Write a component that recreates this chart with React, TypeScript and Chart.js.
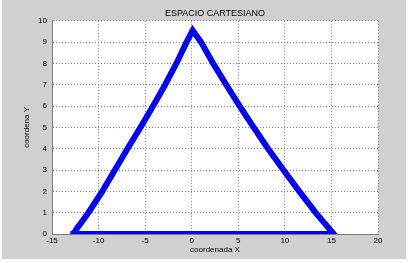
import React, { useEffect, useRef } from 'react';
import { Chart, registerables } from 'chart.js';

Chart.register(...registerables);

const titleText = 'ESPACIO CARTESIANO';
const xAxisLabel = 'coordenada X';
const yAxisLabel = 'coordena Y';

// Left branch (going up to the apex)
const leftX = [-12.7, -12.35, -12.0, -11.1, -9.6, -8.25, -6.9, -5.5, -4.15, -2.85, -1.65, -0.55, 0.1];
const leftY = [0, 0.25, 0.45, 1, 2, 3, 4, 5, 6, 7, 8, 9, 9.55];
// Right branch (apex down to the x axis)
const rightX = [1.0, 2.3, 3.7, 5.15, 6.65, 8.2, 9.85, 11.55, 13.3, 15.25];
const rightY = [9, 8, 7, 6, 5, 4, 3, 2, 1, 0];
// Base along y = 0, back to the start
const baseX = [-12.7];
const baseY = [0];

const xTickValues = [-15, -10, -5, 0, 5, 10, 15, 20];
const yTickValues = [0, 1, 2, 3, 4, 5, 6, 7, 8, 9, 10];

const FONT = "'Liberation Sans', Arial, sans-serif";
const NARROW = "'Liberation Sans Narrow', 'Liberation Sans', Arial, sans-serif";
const BLUE = '#0000ff';

const backgroundPlugin = {
  id: 'matlabBg',
  beforeDraw(chart: any) {
    const { ctx, chartArea } = chart;
    ctx.save();
    ctx.fillStyle = '#ffffff';
    ctx.fillRect(0, 0, chart.width, chart.height);
    ctx.fillStyle = '#d0d0d0';
    ctx.fillRect(2, 0, 404, 259);
    ctx.fillStyle = '#ffffff';
    ctx.fillRect(chartArea.left, chartArea.top, chartArea.right - chartArea.left, chartArea.bottom - chartArea.top);
    ctx.restore();
  },
};

const toPoints = (xs: number[], ys: number[]) => xs.map((x, i) => ({ x, y: ys[i] }));

export default function App() {
  const canvasRef = useRef<HTMLCanvasElement | null>(null);

  useEffect(() => {
    if (!canvasRef.current) return;
    const outline = [
      ...toPoints(leftX, leftY),
      ...toPoints(rightX, rightY),
      ...toPoints(baseX, baseY),
    ];
    const chart = new Chart(canvasRef.current, {
      type: 'scatter',
      data: {
        datasets: [
          {
            data: outline,
            showLine: true,
            borderColor: BLUE,
            backgroundColor: BLUE,
            borderWidth: 6,
            pointRadius: 0,
            tension: 0,
            borderJoinStyle: 'miter',
            borderCapStyle: 'square',
          },
        ] as any,
      },
      options: {
        responsive: false,
        animation: false,
        events: [],
        layout: { padding: { left: 0, right: 32, top: 0, bottom: 0 } },
        plugins: {
          legend: { display: false },
          tooltip: { enabled: false },
          title: {
            display: true,
            fullSize: false,
            text: titleText,
            color: '#000000',
            font: { family: FONT, size: 9, weight: 'normal' },
            padding: { top: 8, bottom: 2 },
          },
        },
        scales: {
          x: {
            type: 'linear',
            min: xTickValues[0],
            max: xTickValues[xTickValues.length - 1],
            afterBuildTicks(scale: any) {
              scale.ticks = xTickValues.map((v) => ({ value: v }));
            },
            afterFit(scale: any) {
              scale.height = 29;
            },
            ticks: {
              color: '#000000',
              font: { family: FONT, size: 8 },
              padding: 2,
              maxRotation: 0,
              autoSkip: false,
            },
            grid: {
              color: '#808080',
              lineWidth: 1,
              drawTicks: false,
              tickLength: 0,
            },
            border: { display: true, color: '#7a7a7a', width: 1, dash: [1, 2] },
            title: {
              display: true,
              text: xAxisLabel,
              color: '#000000',
              font: { family: FONT, size: 8 },
              padding: { top: 0, bottom: 8 },
            },
          },
          y: {
            type: 'linear',
            min: yTickValues[0],
            max: yTickValues[yTickValues.length - 1],
            afterBuildTicks(scale: any) {
              scale.ticks = yTickValues.map((v) => ({ value: v }));
            },
            afterFit(scale: any) {
              scale.width = 52;
            },
            ticks: {
              color: '#000000',
              font: { family: FONT, size: 8 },
              padding: 5,
              autoSkip: false,
            },
            grid: {
              color: '#808080',
              lineWidth: 1,
              drawTicks: false,
              tickLength: 0,
            },
            border: { display: true, color: '#7a7a7a', width: 1, dash: [1, 2] },
            title: {
              display: true,
              text: yAxisLabel,
              color: '#000000',
              font: { family: NARROW, size: 8 },
              padding: { top: 22, bottom: 0 },
            },
          },
        },
      },
      plugins: [backgroundPlugin],
    } as any);

    return () => chart.destroy();
  }, []);

  return (
    <div style={{ position: 'fixed', left: 0, top: 0, width: 410, height: 263 }}>
      <canvas ref={canvasRef} width={410} height={263} style={{ width: 410, height: 263, display: 'block' }} />
    </div>
  );
}
